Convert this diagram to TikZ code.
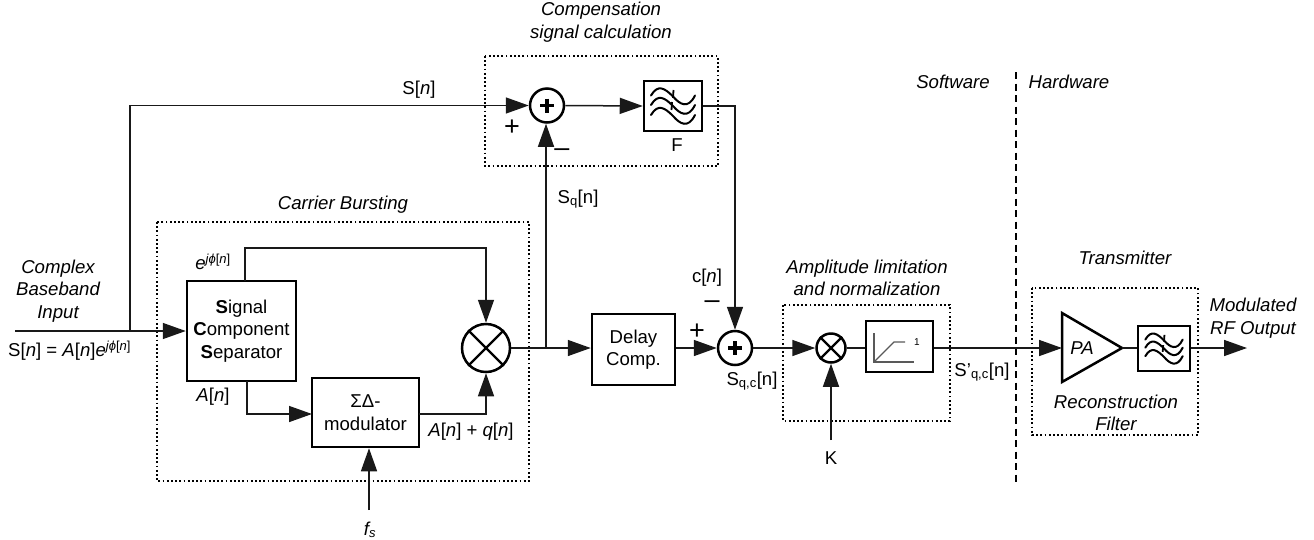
\documentclass[tikz,border=0pt]{standalone}
\usepackage{fontspec}
\setmainfont{Liberation Sans}
\usetikzlibrary{arrows.meta,calc}
\tikzset{
  x=1pt,y=-1pt,
  wire/.style={line width=1.5pt,draw=black!90},
  arr/.style={wire,-{Triangle[length=23pt,width=16pt]}},
  blockbox/.style={draw,line width=2.5pt,inner sep=0pt,align=center,rectangle,font=\fontsize{18.6}{22.5}\selectfont},
  dotbox/.style={draw,line width=1.4pt,dash pattern=on 1.8pt off 2.4pt},
  sumc/.style={draw,circle,line width=2.5pt,inner sep=0pt},
  lab/.style={inner sep=0pt,align=center,font=\fontsize{18.6}{22.5}\selectfont},
  ilab/.style={inner sep=0pt,align=center,font=\fontsize{18.6}{22.5}\selectfont\itshape},
  signlab/.style={inner sep=0pt,font=\fontsize{27}{30}\selectfont},
}
\newcommand{\sumsign}[1]{\draw[line width=3.4pt] ($(#1)+(-7,0)$) -- ($(#1)+(7,0)$) ($(#1)+(0,-7)$) -- ($(#1)+(0,7)$);}
\newcommand{\mulsign}[1]{\draw[line width=2.4pt] (#1.45) -- (#1.225) (#1.135) -- (#1.315);}
\newcommand{\waves}[2]{
 \foreach \dy in {-9.5,0,10}{
  \draw[line width=2pt,line cap=round] ($(#1)+(-22*#2,\dy*#2-1*#2)$) .. controls ($(#1)+(-15*#2,\dy*#2-13*#2)$) and ($(#1)+(-8*#2,\dy*#2-8*#2)$) .. ($(#1)+(0,\dy*#2)$) .. controls ($(#1)+(7*#2,\dy*#2+8*#2)$) and ($(#1)+(15*#2,\dy*#2+13*#2)$) .. ($(#1)+(22*#2,\dy*#2-1*#2)$);
 }
 \draw[line width=1.8pt] ($(#1)+(0.5*#2,-16*#2)$) -- ($(#1)+(0*#2,-8*#2)$);
 \draw[line width=1.8pt] ($(#1)+(-1*#2,-4*#2)$) -- ($(#1)+(-1.5*#2,4*#2)$);
}
\begin{document}
\begin{tikzpicture}
\useasboundingbox (0,0) rectangle (1314,539);
% dotted boxes
\draw[dotbox] (485,56) rectangle (718,166);
\draw[dotbox] (157,222) rectangle (529,481);
\draw[dotbox] (783,305) rectangle (950,421);
\draw[dotbox] (1032,288) rectangle (1198,435);
% dashed separator
\coordinate (dtop) at (1016,72);
\coordinate (dbot) at (1016,484);
\draw[line width=1.4pt,dash pattern=on 7pt off 4.5pt] (dtop) -- (dbot);
% blocks
\node[blockbox,minimum width=109pt,minimum height=100pt] (scs) at (241.5,331) {\textbf{S}ignal\\\textbf{C}omponent\\\textbf{S}eparator};
\node[blockbox,minimum width=107pt,minimum height=69pt] (sd) at (365.5,412.5) {ΣΔ-\\modulator};
\node[sumc,minimum size=48pt] (mul1) at (486,348) {};
\mulsign{mul1}
\node[blockbox,minimum width=83pt,minimum height=71pt] (delay) at (633.5,349.5) {Delay\\Comp.};
\node[sumc,minimum size=34pt] (sum2) at (735,348) {};
\sumsign{sum2}
\node[sumc,minimum size=34pt] (sum1) at (547,105.5) {};
\sumsign{sum1}
\node[blockbox,minimum width=58pt,minimum height=50pt] (filt) at (673,106) {};
\waves{filt}{1}
\node[sumc,minimum size=29pt] (mul2) at (831,348) {};
\mulsign{mul2}
\node[blockbox,minimum width=67pt,minimum height=51pt] (lim) at (899.5,346.5) {};
\draw[line width=1.3pt,draw=black!65] (874,333) -- (874,362) -- (914,362);
\draw[line width=1.3pt,draw=black!65] (874,362) -- (894,342) -- (905,342);
\node[lab,font=\fontsize{10}{12}\selectfont] (limone) at (917,342) {1};
\coordinate (pa1) at (1062,313);
\coordinate (pa2) at (1062,382);
\coordinate (pa3) at (1122,348);
\coordinate (pain) at (1062,348);
\draw[line width=2.5pt,line join=miter] (pa1) -- (pa3) -- (pa2) -- cycle;
\node[ilab] (patext) at (1082,348) {PA};
\node[blockbox,minimum width=52pt,minimum height=45pt] (filt2) at (1164,348.5) {};
\waves{filt2}{0.85}
% coordinates
\coordinate (in) at (15,331);
\coordinate (branch) at (130,331);
\coordinate (topc) at (130,105.5);
\coordinate (j1) at (546,348);
\coordinate (out) at (1247,348);
\coordinate (fs) at (369,510);
\coordinate (k) at (831,440);
\coordinate (escs) at (245,281);
\coordinate (etop) at (486,248);
\coordinate (ascs) at (247,381);
\coordinate (asd) at (312,414);
\coordinate (sdout) at (419,414);
% connectors
\draw[arr] (in) -- (scs.west|-in);
\draw[arr] (branch) -- (topc) -- (sum1.west);
\draw[arr] (sum1.east) -- (filt.west);
\draw[arr] (j1) -- (sum1.south-|j1);
\draw[arr] (filt.east) -| (sum2.north);
\draw[wire] (mul1.east) -- (j1);
\draw[arr] (j1) -- (delay.west|-j1);
\draw[arr] (delay.east|-sum2) -- (sum2.west);
\draw[arr] (sum2.east) -- (mul2.west);
\draw[wire] (mul2.east) -- (lim.west|-mul2);
\draw[arr] (lim.east|-mul2) -- (pain);
\draw[wire] (pa3) -- (filt2.west|-pa3);
\draw[arr] (filt2.east|-pa3) -- (out);
\draw[arr] (k) -- (mul2.south);
\draw[arr] (fs) -- (sd.south-|fs);
\draw[arr] (escs) |- (etop) -- (mul1.north);
\draw[arr] (ascs) |- (asd);
\draw[arr] (sdout) -| (mul1.south);
% labels
\node[ilab] at (601,22) {Compensation\\signal calculation};
\node[ilab] at (343,205) {Carrier Bursting};
\node[ilab] at (58,291) {Complex\\Baseband\\Input};
\node[lab,anchor=west] at (8,351) {S[\textit{n}] = \textit{A}[\textit{n}]\textit{e}\textsuperscript{\textit{jϕ}[\textit{n}]}};
\node[lab] at (419,90) {S[\textit{n}]};
\node[signlab] at (512,128) {+};
\node[signlab] at (562,153) {–};
\node[lab] at (677,145) {F};
\node[lab] at (578,199) {S\textsubscript{q}[n]};
\node[lab] at (707,278) {c[\textit{n}]};
\node[signlab] at (712,305) {–};
\node[signlab] at (697,332) {+};
\node[lab] at (752,381) {S\textsubscript{q,c}[n]};
\node[ilab] at (867,278) {Amplitude limitation\\and normalization};
\node[lab] at (831,458) {K};
\node[lab] at (982,372) {S’\textsubscript{q,c}[n]};
\node[ilab] at (1125,258) {Transmitter};
\node[ilab] at (1116,413) {Reconstruction\\Filter};
\node[ilab] at (1253,318) {Modulated\\RF Output};
\node[ilab] at (953,82) {Software};
\node[ilab] at (1069,82) {Hardware};
\node[lab] at (213,262) {\textit{e}\textsuperscript{\textit{jϕ}[\textit{n}]}};
\node[lab] at (213,397) {\textit{A}[\textit{n}]};
\node[lab] at (471,432) {\textit{A}[\textit{n}] + \textit{q}[\textit{n}]};
\node[lab] at (370,530) {\textit{f\textsubscript{s}}};
\end{tikzpicture}
\end{document}
